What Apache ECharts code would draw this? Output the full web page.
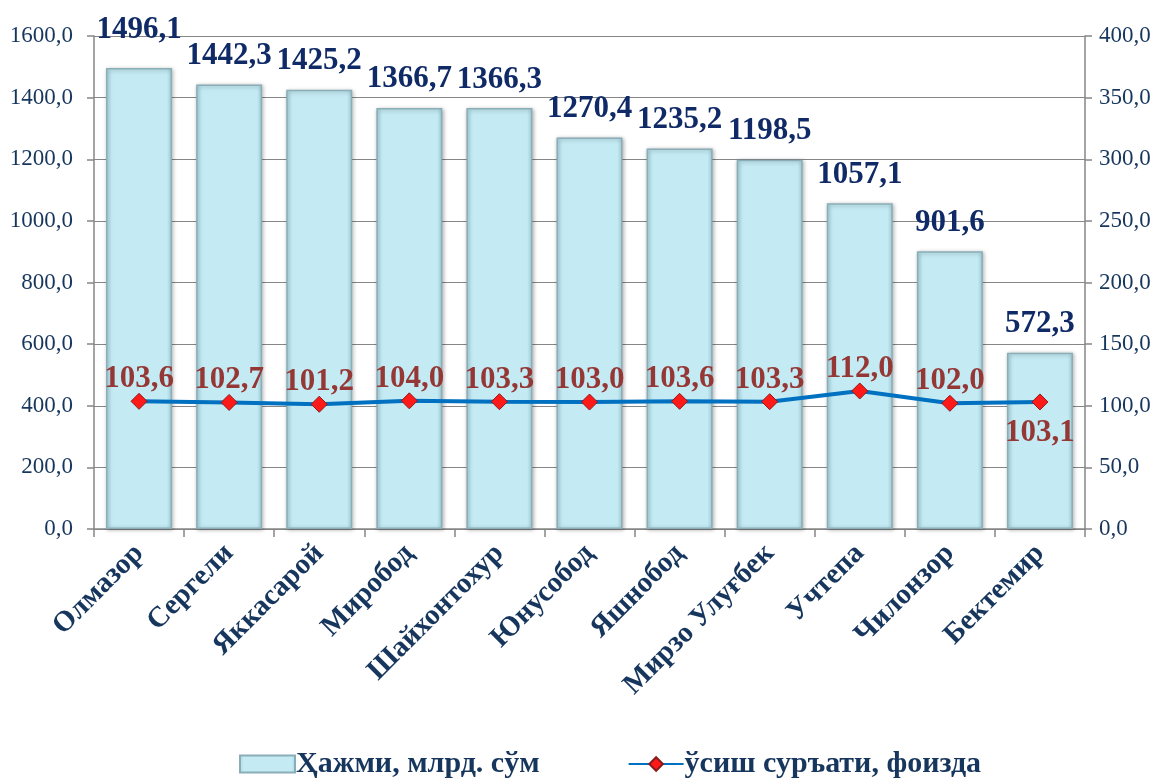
<!DOCTYPE html>
<html><head><meta charset="utf-8">
<script src="https://cdn.jsdelivr.net/npm/echarts@6/dist/echarts.min.js"></script>
<style>html,body{margin:0;padding:0;background:#fff}#c{width:1171px;height:780px}</style>
</head><body><div id="c"></div>
<script>
const categories = ['Олмазор','Сергели','Яккасарой','Миробод','Шайхонтохур','Юнусобод','Яшнобод','Мирзо Улуғбек','Учтепа','Чилонзор','Бектемир'];
const volume = [1496.1,1442.3,1425.2,1366.7,1366.3,1270.4,1235.2,1198.5,1057.1,901.6,572.3];
const growth = [103.6,102.7,101.2,104.0,103.3,103.0,103.6,103.3,112.0,102.0,103.1];
const seriesNames = ['Ҳажми, млрд. сўм','ўсиш суръати, фоизда'];

const fmt = v => v.toFixed(1).replace('.', ',');
const font = '"Liberation Serif","Times New Roman",serif';
const navy = '#17365D';
const barFill = {type:'linear',x:0,y:0,x2:1,y2:0,colorStops:[
  {offset:0,color:'#A9D6E2'},{offset:0.08,color:'#C4EBF4'},{offset:0.92,color:'#C4EBF4'},{offset:1,color:'#A9D6E2'}]};

const chart = echarts.init(document.getElementById('c'));
chart.setOption({
  animation:false,
  textStyle:{fontFamily:font},
  grid:{left:94,right:86,top:36,bottom:251},
  legend:{
    bottom:-4,left:234,itemGap:88,itemWidth:55,itemHeight:17,
    textStyle:{fontFamily:font,fontSize:30,fontWeight:'bold',color:navy,padding:[0,0,0,-4]},
    data:[{name:seriesNames[0],icon:'rect'},{name:seriesNames[1]}]
  },
  xAxis:{
    type:'category',data:categories,
    axisLine:{lineStyle:{color:'#868686',width:1.5}},
    axisTick:{show:true,length:8,lineStyle:{color:'#868686',width:1.5}},
    axisLabel:{rotate:45,interval:0,fontFamily:font,fontSize:29,fontWeight:'bold',color:navy,margin:20}
  },
  yAxis:[
    {type:'value',min:0,max:1600,interval:200,
     axisLine:{show:true,lineStyle:{color:'#868686',width:1.5}},
     axisTick:{show:true,length:7,lineStyle:{color:'#868686',width:1.5}},
     splitLine:{lineStyle:{color:'#868686',width:1.2}},
     axisLabel:{formatter:fmt,fontFamily:font,fontSize:23,color:navy,margin:21}},
    {type:'value',min:0,max:400,interval:50,
     axisLine:{show:true,lineStyle:{color:'#868686',width:1.5}},
     axisTick:{show:true,length:7,lineStyle:{color:'#868686',width:1.5}},
     splitLine:{show:false},
     axisLabel:{formatter:fmt,fontFamily:font,fontSize:23,color:navy,margin:14}}
  ],
  series:[
    {name:seriesNames[0],type:'bar',yAxisIndex:0,barWidth:66,
     data:volume.map((v,i)=>({value:v,label:i===0?{offset:[0,-10]}:{}})),
     itemStyle:{color:barFill,borderColor:'#8AAEB8',borderWidth:1.5,shadowColor:'rgba(0,0,0,0.3)',shadowBlur:4,shadowOffsetX:1,shadowOffsetY:1},
     label:{show:true,position:'top',distance:13,formatter:p=>fmt(p.value),fontFamily:font,fontSize:31,fontWeight:'bold',color:'#0F2A66'}},
    {name:seriesNames[1],type:'line',yAxisIndex:1,data:growth.map((v,i)=>({value:v,label:i===growth.length-1?{position:'bottom',distance:7}:{}})),
     symbol:'diamond',symbolSize:16,
     lineStyle:{color:'#0070C0',width:4},
     itemStyle:{color:'#FF1A1A',borderColor:'#8B1A1A',borderWidth:1},
     label:{show:true,position:'top',distance:-2,formatter:p=>fmt(p.value),fontFamily:font,fontSize:31,fontWeight:'bold',color:'#953735'}}
  ]
});
</script></body></html>
